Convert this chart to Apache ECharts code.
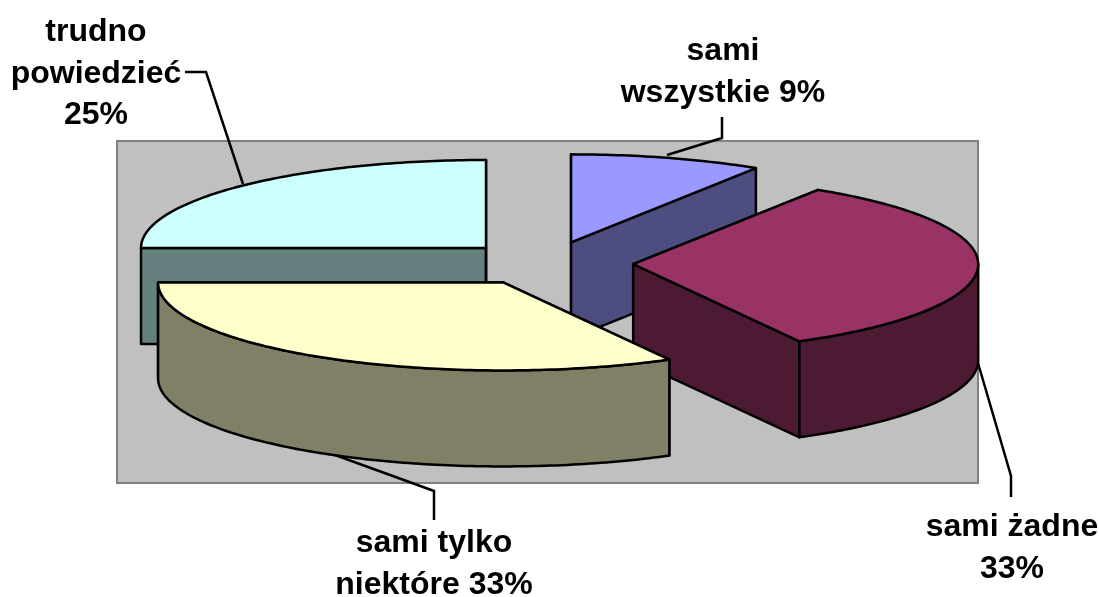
<!DOCTYPE html>
<html>
<head>
<meta charset="utf-8">
<style>
html, body { margin: 0; padding: 0; background: #fff; }
#main { width: 1099px; height: 597px; }
</style>
<script src="https://cdn.jsdelivr.net/npm/echarts@6/dist/echarts.min.js"></script>
</head>
<body>
<div id="main"></div>
<script>
// data, clockwise from 12 o'clock
var categories = ['sami\nwszystkie ', 'sami żadne\n', 'sami tylko\nniektóre ', 'trudno\npowiedzieć\n'];
var values = [9, 33, 33, 25];
var topColors = ['#9999ff', '#993366', '#ffffcc', '#ccffff'];
var sideColors = ['#4d4d80', '#4d1a33', '#808066', '#668080'];
// back to front, the slices overlap
var drawOrder = [0, 2, 3, 1];

// pie geometry in pixels
var cx = 547, cy = 263.5, rx = 345, ry = 88, depth = 96, explode = 0.25;
var total = values.reduce(function (a, b) { return a + b; }, 0);

// leader lines and label anchors
var leaders = [
	[[667, 155], [722, 138], [722, 117]],
	[[978, 363], [1011, 476], [1011, 497]],
	[[335, 455], [434, 491], [434, 520]],
	[[243, 184], [206, 72], [185, 72]]
];
var labelPos = [[723, 72], [1012, 548], [434, 564], [96, 74]];

var border = { stroke: '#000', lineWidth: 2.5, lineJoin: 'round' };

function pt(c, t, dy) {
	return [c[0] + rx * Math.sin(t), c[1] - ry * Math.cos(t) + (dy || 0)];
}

function arc(c, a, b, dy) {
	var pts = [], n = Math.max(2, Math.ceil(Math.abs(b - a) * 60));
	for (var i = 0; i <= n; i++) {
		pts.push(pt(c, a + (b - a) * i / n, dy));
	}
	return pts;
}

function poly(points, fill, z) {
	return { type: 'polygon', z2: z, shape: { points: points }, style: Object.assign({ fill: fill }, border) };
}

function renderSlice(params, api) {
	var i = params.dataIndex;
	var before = 0;
	for (var k = 0; k < i; k++) before += values[k];
	var a = before / total * Math.PI * 2;
	var b = (before + api.value(0)) / total * Math.PI * 2;
	var mid = (a + b) / 2;
	var c = [cx + explode * rx * Math.sin(mid), cy - explode * ry * Math.cos(mid)];
	var side = sideColors[i];
	var z = drawOrder[i] * 10;
	var kids = [];

	// cut walls
	[a, b].forEach(function (t) {
		var p = pt(c, t);
		kids.push(poly([c, p, pt(c, t, depth), [c[0], c[1] + depth]], side, z));
	});
	// outer wall, only the front half of the rim shows
	var from = Math.max(a, Math.PI / 2), to = Math.min(b, Math.PI * 1.5);
	if (to > from) {
		kids.push(poly(arc(c, from, to).concat(arc(c, to, from, depth)), side, z + 1));
	}
	// top face
	kids.push(poly([c].concat(arc(c, a, b)), topColors[i], z + 2));
	return { type: 'group', children: kids };
}

function renderLabel(params, api) {
	var i = params.dataIndex;
	return {
		type: 'group',
		children: [{
			type: 'polyline',
			shape: { points: leaders[i] },
			style: { stroke: '#000', lineWidth: 2.5, fill: null }
		}, {
			type: 'text',
			x: labelPos[i][0],
			y: labelPos[i][1],
			style: {
				text: categories[i] + api.value(0) + '%',
				fill: '#000',
				font: 'bold 32px "Liberation Sans", Arial, sans-serif',
				lineHeight: 41.5,
				align: 'center',
				verticalAlign: 'middle'
			}
		}]
	};
}

var myChart = echarts.init(document.getElementById('main'));
var option = {
	animation: false,
	grid: {
		show: true,
		left: 117, top: 141, width: 861, height: 342,
		backgroundColor: '#c0c0c0',
		borderColor: '#808080',
		borderWidth: 2
	},
	xAxis: { type: 'value', show: false },
	yAxis: { type: 'value', show: false },
	series: [{
		type: 'custom',
		coordinateSystem: 'none',
		renderItem: renderSlice,
		data: values,
		z: 2,
		silent: true
	}, {
		type: 'custom',
		coordinateSystem: 'none',
		renderItem: renderLabel,
		data: values,
		z: 3,
		silent: true
	}]
};
myChart.setOption(option);
</script>
</body>
</html>
